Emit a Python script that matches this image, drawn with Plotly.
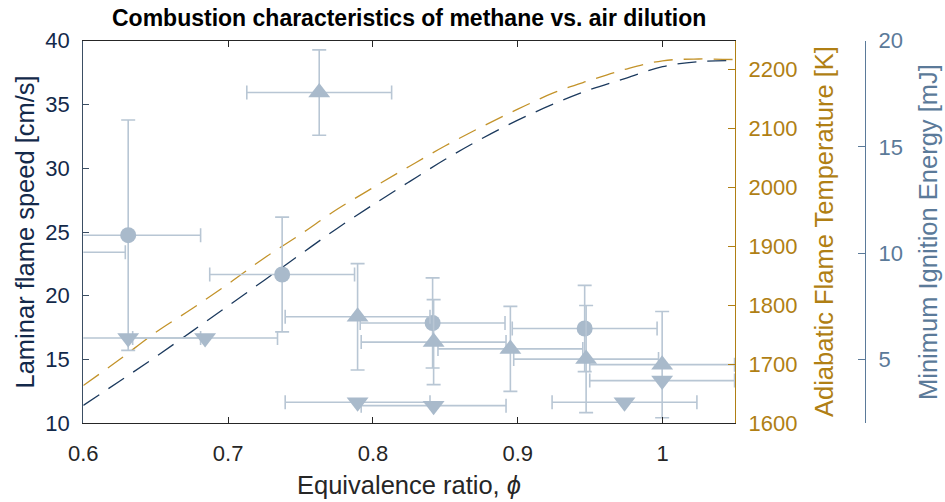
import plotly.graph_objects as go

# ---------------- data ----------------
phi_line = [0.6, 0.625, 0.65, 0.675, 0.7, 0.725, 0.75, 0.775, 0.8, 0.825,
            0.85, 0.875, 0.9, 0.925, 0.95, 0.975, 1.0, 1.025, 1.05]
flame_speed = [11.40, 13.30, 15.21, 17.21, 19.21, 21.22, 23.25, 25.26, 27.13, 28.93,
               30.70, 32.31, 33.77, 35.05, 36.17, 37.07, 37.96, 38.36, 38.44]
adiabatic_T = [1664, 1708, 1754, 1794, 1836, 1880, 1920, 1962, 1999, 2035,
               2070, 2102, 2132, 2160, 2181, 2200, 2214, 2217, 2216]

circle_x = [0.579, 0.631, 0.7373, 0.8412, 0.9462]
circle_y = [10.05, 10.85, 9.00, 6.72, 6.46]
circle_xerr = [0.05, 0.05, 0.05, 0.05, 0.05]
circle_yerr = [2.0, 5.42, 2.7, 2.12, 2.03]

up_x = [0.7629, 0.7894, 0.8419, 0.8949, 0.9472, 0.9997]
up_y = [17.56, 7.01, 5.82, 5.50, 5.02, 4.76]
up_xerr = [0.05, 0.05, 0.05, 0.05, 0.05, 0.05]
up_yerr = [2.01, 2.5, 2.0, 2.0, 2.52, 2.5]

down_x = [0.631, 0.6841, 0.7894, 0.8419, 0.9737, 0.9997]
down_y = [6.01, 6.01, 2.99, 2.83, 2.99, 4.01]
down_xerr = [0.05, 0.05, 0.05, 0.05, 0.05, 0.05]

x_ticks = [0.6, 0.7, 0.8, 0.9, 1.0]
x_ticktext = ["0.6", "0.7", "0.8", "0.9", "1"]
left_ticks = [10, 15, 20, 25, 30, 35, 40]
temp_ticks = [1600, 1700, 1800, 1900, 2000, 2100, 2200]
mie_ticks = [5, 10, 15, 20]

# ---------------- styles ----------------
W, H = 945, 502
FONT = "Liberation Sans, Arial, sans-serif"
NAVY = "#13294a"
NAVY_LINE = "#1c3a5e"
GOLD = "#b07f14"
GOLD_LINE = "#c3932a"
MIE = "#5b7a99"
MARK = "#a9bacb"
ERR = "#b8c6d4"
DARK = "#262626"

x0, x1 = 83.3, 735.0
yt, yb = 40.7, 423.3
xdom = [x0 / W, x1 / W]
ydom = [1 - yb / H, 1 - yt / H]
mie_pos = 865.0 / W

fig = go.Figure()

dash = "19px,11px"
fig.add_trace(go.Scatter(x=phi_line, y=flame_speed, mode="lines", line_shape="spline",
                         line=dict(color=NAVY_LINE, width=1.3, dash=dash),
                         yaxis="y", showlegend=False, hoverinfo="skip"))
fig.add_trace(go.Scatter(x=phi_line, y=adiabatic_T, mode="lines", line_shape="spline",
                         line=dict(color=GOLD_LINE, width=1.3, dash=dash),
                         yaxis="y2", showlegend=False, hoverinfo="skip"))

def ebar(arr):
    return dict(type="data", array=arr, symmetric=True, color=ERR, thickness=1.6, width=7)

fig.add_trace(go.Scatter(x=circle_x, y=circle_y, mode="markers", yaxis="y3",
                         marker=dict(symbol="circle", size=16, color=MARK),
                         error_x=ebar(circle_xerr), error_y=ebar(circle_yerr),
                         showlegend=False))
fig.add_trace(go.Scatter(x=up_x, y=up_y, mode="markers", yaxis="y3",
                         marker=dict(symbol="triangle-up", size=19, color=MARK),
                         error_x=ebar(up_xerr), error_y=ebar(up_yerr),
                         showlegend=False))
fig.add_trace(go.Scatter(x=down_x, y=down_y, mode="markers", yaxis="y3",
                         marker=dict(symbol="triangle-down", size=19, color=MARK),
                         error_x=ebar(down_xerr),
                         showlegend=False))

TICKF = 22
fig.update_layout(
    template="none",
    width=W, height=H,
    margin=dict(l=0, r=0, t=0, b=0),
    paper_bgcolor="white", plot_bgcolor="white",
    font=dict(family=FONT),
    showlegend=False,
    xaxis=dict(domain=xdom, range=[0.6, 1.05], tickvals=x_ticks, ticktext=x_ticktext,
               ticks="inside", ticklen=6, tickcolor=DARK, tickwidth=1,
               showline=True, linecolor=DARK, linewidth=1, mirror="ticks",
               showgrid=False, zeroline=False, automargin=False,
               tickfont=dict(size=TICKF, color=DARK, family=FONT), ticklabelstandoff=10),
    yaxis=dict(domain=ydom, range=[10, 40], tickvals=left_ticks,
               ticks="inside", ticklen=6, tickcolor="#3b4e63",
               showline=True, linecolor="#3b4e63", linewidth=1.2,
               showgrid=False, zeroline=False, automargin=False,
               tickfont=dict(size=TICKF, color=NAVY, family=FONT), ticklabelstandoff=8),
    yaxis2=dict(overlaying="y", side="right", anchor="x", range=[1600, 2248],
                tickvals=temp_ticks, ticks="inside", ticklen=7, tickcolor=GOLD,
                showline=True, linecolor=GOLD, linewidth=1.2,
                showgrid=False, zeroline=False, automargin=False,
                tickfont=dict(size=TICKF, color=GOLD, family=FONT), ticklabelstandoff=8),
    yaxis3=dict(overlaying="y", side="right", anchor="free", position=mie_pos,
                range=[2, 20], tickvals=mie_ticks, ticks="inside", ticklen=7,
                tickcolor=MIE, showline=True, linecolor=MIE, linewidth=1.2,
                showgrid=False, zeroline=False, automargin=False,
                tickfont=dict(size=TICKF, color=MIE, family=FONT), ticklabelstandoff=8),
)

LABF = 25.5
ycen = 1 - ((yt + yb) / 2) / H
fig.add_annotation(text="<b>Combustion characteristics of methane vs. air dilution</b>",
                   x=((x0 + x1) / 2) / W, y=1 - 18 / H, xref="paper", yref="paper",
                   showarrow=False, xanchor="center", yanchor="middle",
                   font=dict(size=23, color="black", family=FONT))
fig.add_annotation(text="Equivalence ratio, <i>\u03d5</i>",
                   x=((x0 + x1) / 2) / W, y=1 - 484.5 / H, xref="paper", yref="paper",
                   showarrow=False, xanchor="center", yanchor="middle",
                   font=dict(size=LABF, color=DARK, family=FONT))
fig.add_annotation(text="Laminar flame speed [cm/s]", textangle=-90,
                   x=24.5 / W, y=ycen, xref="paper", yref="paper",
                   showarrow=False, xanchor="center", yanchor="middle",
                   font=dict(size=LABF, color=NAVY, family=FONT))
fig.add_annotation(text="Adiabatic Flame Temperature [K]", textangle=-90,
                   x=824 / W, y=ycen, xref="paper", yref="paper",
                   showarrow=False, xanchor="center", yanchor="middle",
                   font=dict(size=LABF, color=GOLD, family=FONT))
fig.add_annotation(text="Minimum Ignition Energy [mJ]", textangle=-90,
                   x=928 / W, y=ycen, xref="paper", yref="paper",
                   showarrow=False, xanchor="center", yanchor="middle",
                   font=dict(size=LABF, color=MIE, family=FONT))

fig.write_html("out.html")
